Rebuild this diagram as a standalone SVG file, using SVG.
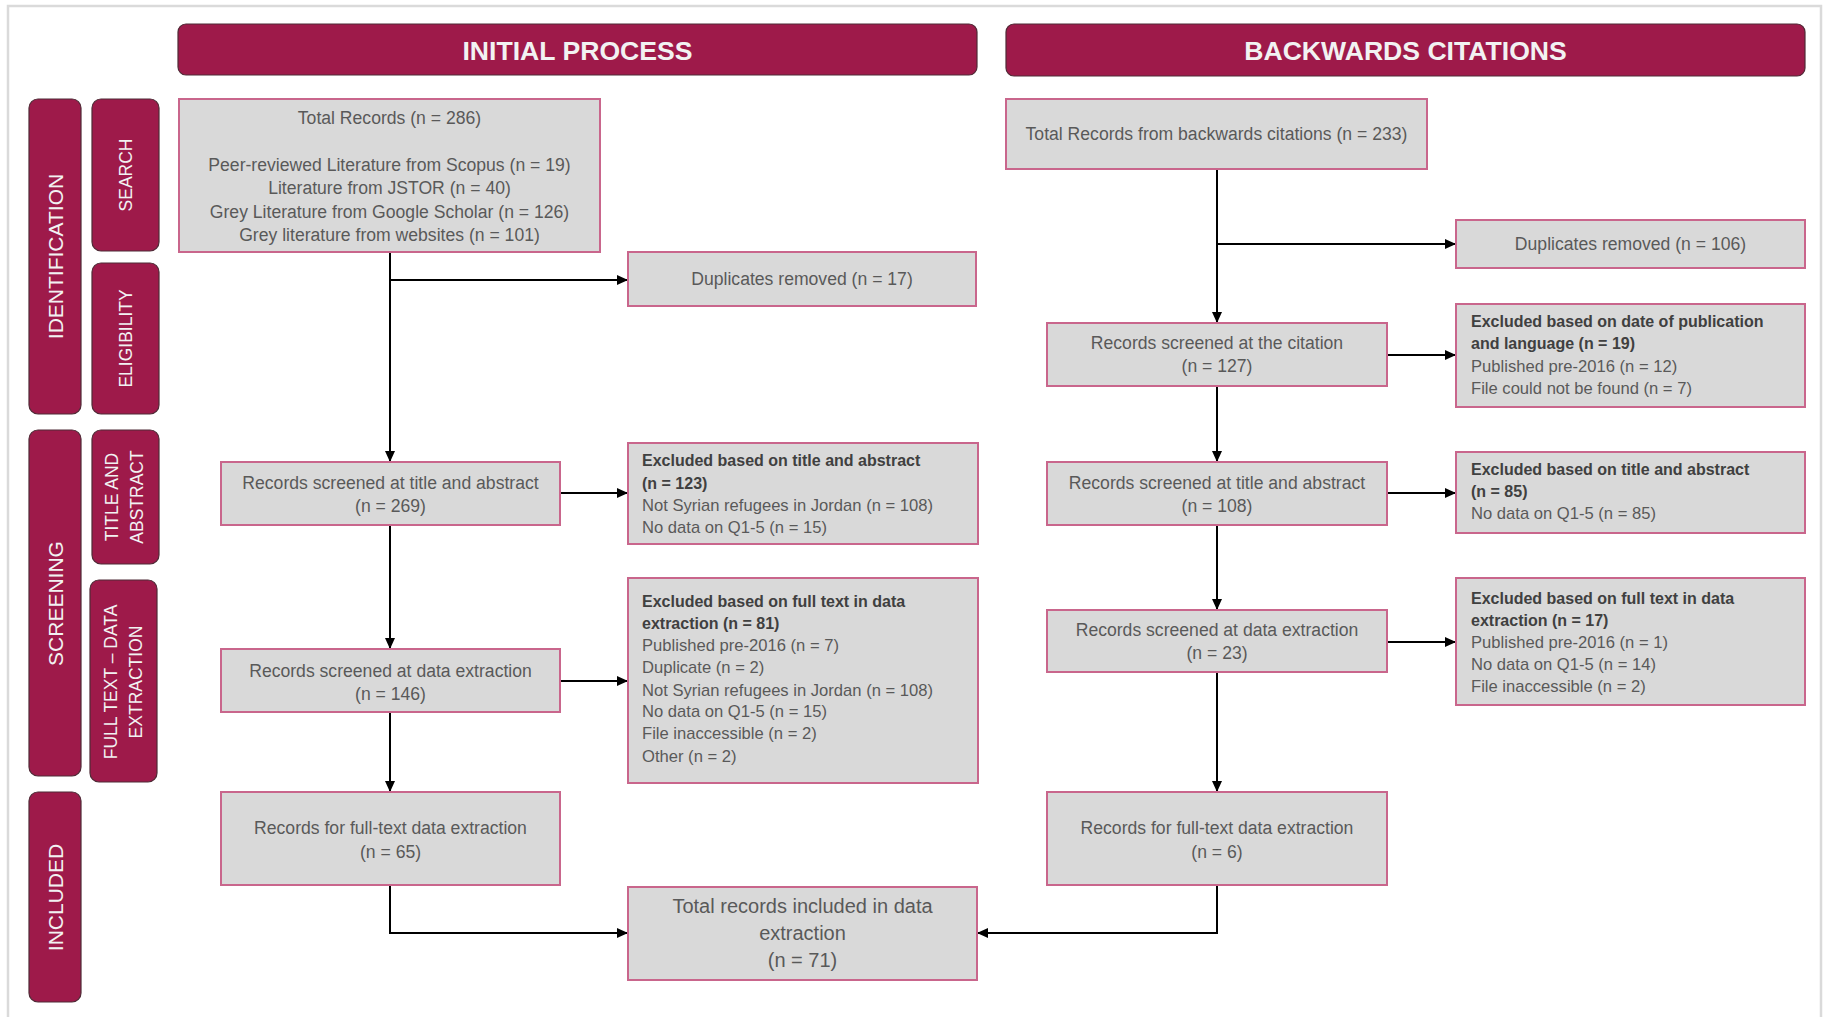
<svg xmlns="http://www.w3.org/2000/svg" width="1824" height="1017" viewBox="0 0 1824 1017">
<defs>
<style>
.frame{fill:none;stroke:#DADADA;stroke-width:2.5}
.bar{fill:#9E1A4A;stroke:#4F2A36;stroke-width:1.2}
.box{fill:#D9D9D9;stroke:#C9668C;stroke-width:2}
.t{font-family:"Liberation Sans",Arial,sans-serif;fill:#595959;font-size:17.6px}
.c{text-anchor:middle}
.ex{font-size:16.6px}
.exb{font-size:16px;font-weight:bold;fill:#404040}
.big{font-size:20px}
.ht{font-family:"Liberation Sans",Arial,sans-serif;font-size:26.6px;font-weight:bold;fill:#F2F2F2;text-anchor:middle}
.sl{font-family:"Liberation Sans",Arial,sans-serif;fill:#F2F2F2;text-anchor:middle}
.sl1{font-size:21px}
.sl2{font-size:17.5px}
.conn{stroke:#000;stroke-width:2;fill:none}
</style>
<marker id="ah" markerWidth="11" markerHeight="10" refX="11" refY="5" orient="auto" markerUnits="userSpaceOnUse">
<path d="M0,0 L11,5 L0,10 z" fill="#000"/>
</marker>
</defs>
<rect width="1824" height="1017" fill="#FFFFFF"/>
<path class="frame" d="M8,1017 V6 H1821 V1017"/>

<g id="header-initial">
<rect class="bar" x="178" y="24" width="799" height="51" rx="8"/>
<text class="ht" x="577.5" y="60">INITIAL PROCESS</text>
</g>
<g id="header-backwards">
<rect class="bar" x="1006" y="24" width="799" height="52" rx="8"/>
<text class="ht" x="1405.5" y="60">BACKWARDS CITATIONS</text>
</g>

<g id="stage-identification">
<rect class="bar" x="29" y="99" width="52" height="315" rx="9"/>
<text class="sl sl1" transform="translate(62.5,256.5) rotate(-90)">IDENTIFICATION</text>
</g>
<g id="stage-search">
<rect class="bar" x="92" y="99" width="67" height="152" rx="9"/>
<text class="sl sl2" transform="translate(132,175) rotate(-90)">SEARCH</text>
</g>
<g id="stage-eligibility">
<rect class="bar" x="92" y="263" width="67" height="151" rx="9"/>
<text class="sl sl2" transform="translate(132,338.5) rotate(-90)">ELIGIBILITY</text>
</g>
<g id="stage-screening">
<rect class="bar" x="29" y="430" width="52" height="346" rx="9"/>
<text class="sl sl1" transform="translate(62.5,603.5) rotate(-90)">SCREENING</text>
</g>
<g id="stage-title-abstract">
<rect class="bar" x="92" y="430" width="67" height="134" rx="9"/>
<text class="sl sl2" transform="translate(118.3,497) rotate(-90)">TITLE AND</text>
<text class="sl sl2" transform="translate(143.3,497) rotate(-90)">ABSTRACT</text>
</g>
<g id="stage-full-text">
<rect class="bar" x="90" y="580" width="67" height="202" rx="9"/>
<text class="sl sl2" transform="translate(116.8,682) rotate(-90)">FULL TEXT – DATA</text>
<text class="sl sl2" transform="translate(142.3,682) rotate(-90)">EXTRACTION</text>
</g>
<g id="stage-included">
<rect class="bar" x="29" y="792" width="52" height="210" rx="9"/>
<text class="sl sl1" transform="translate(62.5,897.5) rotate(-90)">INCLUDED</text>
</g>

<g id="connectors">
<path class="conn" d="M390,252 V462" marker-end="url(#ah)"/>
<path class="conn" d="M390,280 H628" marker-end="url(#ah)"/>
<path class="conn" d="M560,493 H628" marker-end="url(#ah)"/>
<path class="conn" d="M390,525 V649" marker-end="url(#ah)"/>
<path class="conn" d="M560,681 H628" marker-end="url(#ah)"/>
<path class="conn" d="M390,712 V792" marker-end="url(#ah)"/>
<path class="conn" d="M390,885 V933 H628" marker-end="url(#ah)"/>
<path class="conn" d="M1217,169 V323" marker-end="url(#ah)"/>
<path class="conn" d="M1217,244 H1456" marker-end="url(#ah)"/>
<path class="conn" d="M1387,355 H1456" marker-end="url(#ah)"/>
<path class="conn" d="M1217,386 V462" marker-end="url(#ah)"/>
<path class="conn" d="M1387,493 H1456" marker-end="url(#ah)"/>
<path class="conn" d="M1217,525 V610" marker-end="url(#ah)"/>
<path class="conn" d="M1387,642 H1456" marker-end="url(#ah)"/>
<path class="conn" d="M1217,672 V792" marker-end="url(#ah)"/>
<path class="conn" d="M1217,885 V933 H977" marker-end="url(#ah)"/>
</g>

<g id="total-records">
<rect class="box" x="179" y="99" width="421" height="153"/>
<text class="t c" x="389.5" y="124">Total Records (n = 286)</text>
<text class="t c" x="389.5" y="171">Peer-reviewed Literature from Scopus (n = 19)</text>
<text class="t c" x="389.5" y="194">Literature from JSTOR (n = 40)</text>
<text class="t c" x="389.5" y="218">Grey Literature from Google Scholar (n = 126)</text>
<text class="t c" x="389.5" y="241">Grey literature from websites (n = 101)</text>
</g>
<g id="duplicates-17">
<rect class="box" x="628" y="252" width="348" height="54"/>
<text class="t c" x="802" y="285">Duplicates removed (n = 17)</text>
</g>
<g id="screened-ta-269">
<rect class="box" x="221" y="462" width="339" height="63"/>
<text class="t c" x="390.5" y="489">Records screened at title and abstract</text>
<text class="t c" x="390.5" y="512">(n = 269)</text>
</g>
<g id="excluded-ta-123">
<rect class="box" x="628" y="443" width="350" height="101"/>
<text class="t exb" x="642" y="466">Excluded based on title and abstract</text>
<text class="t exb" x="642" y="489">(n = 123)</text>
<text class="t ex" x="642" y="511">Not Syrian refugees in Jordan (n = 108)</text>
<text class="t ex" x="642" y="533">No data on Q1-5 (n = 15)</text>
</g>
<g id="screened-de-146">
<rect class="box" x="221" y="649" width="339" height="63"/>
<text class="t c" x="390.5" y="677">Records screened at data extraction</text>
<text class="t c" x="390.5" y="700">(n = 146)</text>
</g>
<g id="excluded-ft-81">
<rect class="box" x="628" y="578" width="350" height="205"/>
<text class="t exb" x="642" y="607">Excluded based on full text in data</text>
<text class="t exb" x="642" y="629">extraction (n = 81)</text>
<text class="t ex" x="642" y="651">Published pre-2016 (n = 7)</text>
<text class="t ex" x="642" y="673">Duplicate (n = 2)</text>
<text class="t ex" x="642" y="696">Not Syrian refugees in Jordan (n = 108)</text>
<text class="t ex" x="642" y="717">No data on Q1-5 (n = 15)</text>
<text class="t ex" x="642" y="739">File inaccessible (n = 2)</text>
<text class="t ex" x="642" y="762">Other (n = 2)</text>
</g>
<g id="fulltext-65">
<rect class="box" x="221" y="792" width="339" height="93"/>
<text class="t c" x="390.5" y="834">Records for full-text data extraction</text>
<text class="t c" x="390.5" y="858">(n = 65)</text>
</g>
<g id="total-included-71">
<rect class="box" x="628" y="887" width="349" height="93"/>
<text class="t c big" x="802.5" y="913">Total records included in data</text>
<text class="t c big" x="802.5" y="940">extraction</text>
<text class="t c big" x="802.5" y="967">(n = 71)</text>
</g>

<g id="total-backwards-233">
<rect class="box" x="1006" y="99" width="421" height="70"/>
<text class="t c" x="1216.5" y="140">Total Records from backwards citations (n = 233)</text>
</g>
<g id="duplicates-106">
<rect class="box" x="1456" y="220" width="349" height="48"/>
<text class="t c" x="1630.5" y="250">Duplicates removed (n = 106)</text>
</g>
<g id="screened-citation-127">
<rect class="box" x="1047" y="323" width="340" height="63"/>
<text class="t c" x="1217" y="349">Records screened at the citation</text>
<text class="t c" x="1217" y="372">(n = 127)</text>
</g>
<g id="excluded-date-19">
<rect class="box" x="1456" y="304" width="349" height="103"/>
<text class="t exb" x="1471" y="327">Excluded based on date of publication</text>
<text class="t exb" x="1471" y="349">and language (n = 19)</text>
<text class="t ex" x="1471" y="372">Published pre-2016 (n = 12)</text>
<text class="t ex" x="1471" y="394">File could not be found (n = 7)</text>
</g>
<g id="screened-ta-108">
<rect class="box" x="1047" y="462" width="340" height="63"/>
<text class="t c" x="1217" y="489">Records screened at title and abstract</text>
<text class="t c" x="1217" y="512">(n = 108)</text>
</g>
<g id="excluded-ta-85">
<rect class="box" x="1456" y="452" width="349" height="81"/>
<text class="t exb" x="1471" y="475">Excluded based on title and abstract</text>
<text class="t exb" x="1471" y="497">(n = 85)</text>
<text class="t ex" x="1471" y="519">No data on Q1-5 (n = 85)</text>
</g>
<g id="screened-de-23">
<rect class="box" x="1047" y="610" width="340" height="62"/>
<text class="t c" x="1217" y="636">Records screened at data extraction</text>
<text class="t c" x="1217" y="659">(n = 23)</text>
</g>
<g id="excluded-ft-17">
<rect class="box" x="1456" y="578" width="349" height="127"/>
<text class="t exb" x="1471" y="604">Excluded based on full text in data</text>
<text class="t exb" x="1471" y="626">extraction (n = 17)</text>
<text class="t ex" x="1471" y="648">Published pre-2016 (n = 1)</text>
<text class="t ex" x="1471" y="670">No data on Q1-5 (n = 14)</text>
<text class="t ex" x="1471" y="692">File inaccessible (n = 2)</text>
</g>
<g id="fulltext-6">
<rect class="box" x="1047" y="792" width="340" height="93"/>
<text class="t c" x="1217" y="834">Records for full-text data extraction</text>
<text class="t c" x="1217" y="858">(n = 6)</text>
</g>
</svg>
